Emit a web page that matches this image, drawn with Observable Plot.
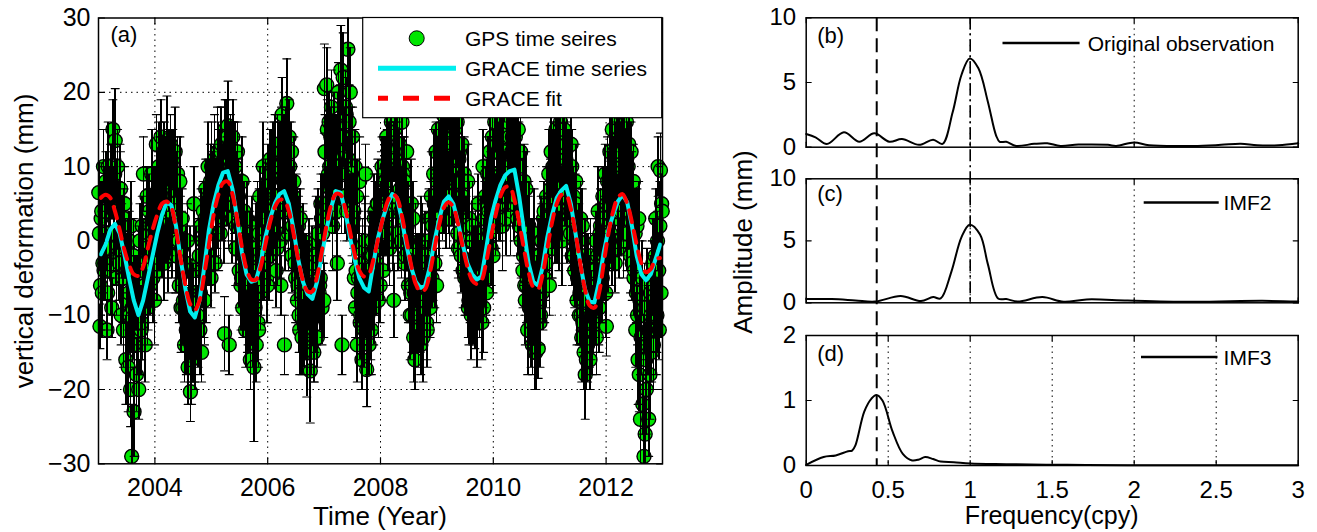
<!DOCTYPE html>
<html><head><meta charset="utf-8">
<script src="https://cdn.jsdelivr.net/npm/d3@7"></script>
<script src="https://cdn.jsdelivr.net/npm/@observablehq/plot@0.6"></script>
<style>
body{margin:0;background:#fff;font-family:"Liberation Sans",Arial,sans-serif;}
#root{position:relative;width:1317px;height:532px;overflow:hidden;background:#fff;}
#root svg{position:absolute;}
</style></head><body><div id="root"></div>
<script>
// ---------------- DATA ----------------
const gpsStartYear = 2003;
const gpsSamplesPerYear = 96;
// GPS vertical deformation (mm), 8 samples per month, 2003-2012
const gpsValues = [
 // 2003
 6.5,1,-11.5,-6,3,4,-7,-3, 10,-4,-3,4,8,1,-12,-7, 10,6,0,-1,8,-4,-9,8, 15,1,4,9,13.5,-2,-5,5, 10,4,-2,-3,7,7,-10,0, 2,-5,-12,3,5,-1,-16,-8,
 -4,-1,-17,-7,0,-10,-20,2, -29,-9,-12,-2,-23,-13,-7,-6, -18,-7,-8,-14,-20,-4,0,-11, -12,-11,2,-3,9,-7,-6,-14, -3,-1,6,-9,-8,1,4,-6, 2,-5,9,3,-5,1,6,-8,
 // 2004
 5,4,13,-3,-4,7,10,0, 8,0,14,9,0,5,12,-3, 12,9,3,3,13.5,-1,-2,11, 9,4,13,10,2,0,11,7, 6,5,12,-2,-2,8,9,1, 0,-6,8,2,-9,-1,3,-9,
 -8,-3,-14,-9,-3,-12,-11,0, -17,-10,-12,-4,-20.3,-14,-16,-7, -13,-7,5,-14,-15,-4,-8,-11, -10,-12,-3,-2,-12,-7,2,-15, -4,0,4,-8,-8,3,7,-5, 3,-2,10,6,-2,4,8,-5,
 // 2005
 10,8,4,1,8,11,-3,4, 7,4,12,12,1,9,10,1, 12,13,4,7,9,3,-12.5,15, 14,8,8,14,15.5,4,-14,11, 13,10,5,3,14,12,10,6, 10,-1,2,7,12,4,6,-4,
 4,2,-6,-5,8,-9,-2,4, -2,-6,-12,0,3,-10,-8,-3, -10,-2,-16,-9,-4,1,-13,-7, -17,-9,-9,-1,-14,-5,2,-11, -12,1,6,-7,-6,3,-2,-4, 10,-3,0,5,6,3,-5,-6,
 // 2006
 8,6,-2,-1,11,9,4,2, 10,2,3,10,12,6,-4,-1, 13,10,6,4,10,0,-6,12, 17,5,8,11,-14,1,12,9, 18.5,8,10,1,14,10,4,4, 12,-2,2,6,8,3,-3,-5,
 4,1,-8,-6,2,-10,-12,3, -4,-7,-13,-1,0,-11,-10,-4, -12,-4,-15,-11,-6,-1,-2,-9, -17.5,-11,-14,-3,-8,-7,-15,-13, -10,-2,0,-9,-13,1,-5,-7, -6,-5,5,3,-9,1,3,-8,
 // 2007
 20.5,12,4,5,21,15,8,9, 16,10,7,14,18,6,2,12, 14,13,5,8,12,4,-3,16, 20,11,10,16,23,6,-14,13, 22,14,12,6,18,17,4,9, 25.8,11,16,5,20,14,8,2,
 14,3,4,-5,10,-9,-4,6, -14,-7,-5,-1,8,-11,-10,-4, -16,-3,-8,-10,-12,0,9,-8, -17.3,-10,-10,-3,-14,-6,-2,-12, -12,0,-2,-7,-9,3,4,-5, -4,-3,5,5,-8,3,2,-6,
 // 2008
 3,6,10,-1,-4,9,8,2, 8,2,14,10,1,6,12,-1, 12,10,16,4,4,0,-8,12, 15,5,6,11,16.2,1,10,9, 13,7,4,0,16,10,9,3, 8,-3,-2,5,12,2,4,-6,
 0,0,-10,-7,5,-10,-6,3, -13,-7,-16,-1,-4,-11,-9,-4, -12,-3,-6,-10,-14,0,0,-8, -13,-9,-8,-2,-2,-6,-11,-12, -5,0,3,-7,-9,3,6,-5, 2,-3,9,5,-3,3,12,-6,
 // 2009
 8,9,15,3,2,12,12,6, 11,6,17,13,5,9,14,3, 14,12,19,7,6,3,16,14, 12,8,18,13,4,4,15,11, 9,8,16,1,-1,11,12,5, 6,-2,13,6,-4,3,9,-5,
 2,0,-5,-6,8,-9,-8,3, -6,-6,-10,0,2,-9,-4,-3, -10.5,-2,-3,-8,-11,1,5,-6, -8,-7,0,0,-11,-4,10,-9, -3,3,6,-5,-7,5,9,-2, 4,1,12,8,-1,6,14,-2,
 // 2010
 9,9,16,3,4,12,13,6, 12,5,18,13,6,9,15,2, 14,12,20,7,8,3,17,15, 16,8,22,14,10,4,18,12, 14,12,19,5,6,14,15,8, 10,3,15,10,2,7,12,0,
 4,5,-4,-2,8,-6,-8,7, -6,-5,-12,1,2,-9,-9,-2, -11,-2,-14,-9,-5,1,-15,-7, -15,-9,-8,-2,-14.5,-6,-2,-11, -10,0,0,-7,-6,3,4,-5, -3,-3,6,5,0,3,9,-6,
 // 2011
 5,7,12,0,-1,10,10,3, 10,3,15,11,3,7,13,0, 12,10,16,4,6,0,14,12, 15,6,9,11,13,2,2,9, 10,8,4,1,13,10,-2,4, 6,-2,-4,5,8,3,-8,-5,
 -2,0,-10,-7,3,-10,-13,2, -11,-8,-15,-2,-18,-12,-16,-5, -14,-5,-6,-12,-16,-2,-10,-10, -12,-11,-4,-4,-8,-8,0,-13, -6,-2,4,-9,-9,1,2,-7, -3,-5,6,3,-2,1,9,-7,
 // 2012
 -11.5,5,8,-2,2,8,12,1, 6,0,15,9,0,5,12,-3, 10,9,16.5,3,4,-1,14,11, 12,4,17,10,6,0,15,8, 10,8,16,1,3,10,13,4, 5,-2,12,6,-3,3,8,-5,
 -4,1,-12,-7,2,-10,-16,3, -18,-8,-24,-13,-10,-5,-22,-15, -29,-9,-26,-16,-20,-6,-14,-12, -24,-12,-18,-7,-10,-15,-5,-3, -14,-8,-6,-2,3,-12,-10,0, 10,-4,-12,2,9.5,-7,5,4
];
// GPS 1-sigma errors (mm)
const gpsErrors = [
 4,5,3,6,5,4,6,4, 5,4,5,6,4,5,4,5, 6,4,5,4,5,6,4,5, 4,5,6,4,7,4,5,6, 5,4,6,5,6,5,4,5, 4,6,5,4,5,4,6,5, 5,4,6,5,4,5,5,6, 7,6,4,5,6,4,5,4, 5,5,6,4,4,6,5,5, 6,5,4,6,5,4,5,5, 6,5,4,5,4,6,5,4, 5,4,6,5,6,5,4,6,
 5,6,4,5,4,5,6,4, 6,4,5,5,5,6,4,5, 4,5,6,5,6,4,5,4, 5,6,4,5,6,5,4,6, 5,4,6,5,5,4,5,6, 4,5,6,4,6,5,4,5, 6,4,5,4,5,6,4,5, 5,6,4,6,4,5,6,4, 6,4,5,5,5,6,4,5, 4,5,6,5,6,4,5,4, 5,6,4,5,6,5,4,6, 5,4,6,5,4,6,5,4,
 6,4,5,5,5,6,4,6, 4,5,6,4,5,6,5,4, 6,5,4,5,4,6,5,4, 5,4,6,5,6,5,4,5, 4,6,5,6,5,4,6,5, 6,5,4,5,4,6,5,5, 5,4,6,5,6,4,5,4, 4,6,5,4,5,5,6,4, 5,6,4,5,6,5,4,6, 10,5,4,6,5,4,6,5, 5,6,4,5,4,5,6,4, 6,5,4,5,5,4,6,5,
 5,4,6,5,4,6,5,4, 6,5,4,6,5,4,5,5, 4,6,5,4,6,5,4,6, 5,4,5,6,4,5,6,5, 6,5,4,5,5,6,4,5, 4,5,6,4,6,4,5,6, 5,6,4,5,4,5,6,4, 6,4,5,5,5,6,4,5, 4,5,6,5,6,4,5,4, 7,6,4,5,6,5,4,6, 5,4,6,5,4,6,5,4, 6,5,4,5,5,4,6,5,
 6,5,4,5,5,4,6,5, 4,6,5,4,5,4,6,5, 6,5,4,5,5,6,5,4, 4,6,5,5,6,5,4,6, 6,4,6,5,5,5,4,5, 5,6,5,4,6,4,5,4, 4,6,5,4,5,4,6,5, 5,4,6,5,6,5,4,5, 4,6,5,4,5,6,4,5, 5,6,4,5,4,5,6,4, 6,4,5,5,5,6,4,5, 6,5,4,6,5,4,5,5,
 5,6,4,5,4,5,6,4, 6,4,5,5,5,6,4,5, 4,5,6,5,6,4,5,4, 5,6,4,5,6,5,4,6, 5,4,6,5,5,4,5,6, 6,5,4,6,5,6,4,5, 4,5,6,4,6,5,4,5, 6,5,4,6,5,4,6,5, 5,4,6,5,4,6,5,4, 6,5,4,6,5,4,5,5, 5,6,4,5,4,5,6,4, 4,5,6,4,6,5,4,5,
 4,5,6,5,6,4,5,4, 5,6,4,5,4,5,6,4, 6,5,4,5,5,4,6,5, 4,6,5,4,6,5,4,6, 5,4,6,5,4,6,5,5, 6,5,4,6,5,4,5,5, 4,6,5,4,5,4,6,5, 5,4,6,5,6,5,4,5, 4,6,5,5,6,5,4,6, 5,4,6,5,5,4,5,6, 6,5,4,5,4,6,5,4, 4,5,6,4,5,6,4,5,
 6,5,4,5,5,6,4,5, 4,5,6,4,6,4,5,6, 5,6,4,5,4,5,6,4, 6,4,5,5,5,6,4,5, 5,4,6,5,4,6,5,4, 6,5,4,6,5,4,6,5, 4,6,5,4,5,4,6,5, 5,4,6,5,6,5,4,5, 6,5,4,5,4,6,5,4, 5,4,6,5,4,5,5,6, 4,6,5,4,6,5,4,6, 5,6,4,5,4,5,6,4,
 5,4,6,5,4,5,6,4, 5,6,4,5,6,4,5,4, 5,5,6,4,4,6,5,5, 5,4,6,5,6,5,4,6, 5,4,5,5,6,5,4,5, 4,6,5,4,5,4,6,5, 6,5,4,5,5,4,6,5, 4,6,5,5,6,5,4,6, 5,6,4,5,4,5,6,4, 6,4,5,5,5,6,4,5, 4,5,6,5,6,4,5,4, 5,6,4,5,6,5,4,6,
 4,5,6,5,6,4,5,4, 5,6,4,5,4,5,6,4, 6,5,4,5,5,4,6,5, 4,6,5,4,6,5,4,6, 5,4,6,5,4,6,5,5, 6,5,4,6,5,4,5,5, 4,6,5,4,5,4,6,5, 5,4,6,5,6,5,4,5, 4,6,5,5,6,5,4,6, 5,4,6,5,5,4,5,6, 6,5,4,5,4,6,5,4, 4,5,4,6,5,6,4,5
];
// GRACE-derived deformation (mm), monthly 2003-2012
const graceStartYear = 2003;
const graceSeries = [
 -1.8,-0.5,1.5,2.3,1.0,-1.8,-5,-8,-10,-8,-5,-2,
 1,3.5,5.2,4.8,2,-2.5,-6.5,-9.5,-10.3,-8,-3.5,1.5,
 5,7.5,9.2,9.4,7,3,-1.5,-4.5,-5.5,-5.3,-3,0.5,
 3,5,6.3,6.7,5,1.5,-2.5,-5.5,-7.2,-7.8,-5.5,-2,
 1.5,4.5,6.7,6.5,4,0.5,-2.5,-5,-6.3,-6.8,-3,0.5,
 3,5,6.3,5.8,3,-0.5,-3.5,-5.5,-6.3,-6,-3.5,0,
 3,5.3,6,5,2.5,-0.5,-3,-4.5,-5.2,-4.8,-1,3,
 5.5,7.5,8.8,9.4,9.6,6,1.5,-3,-5.5,-6,-3.5,0.5,
 3.5,5.8,6.8,7.4,5,1,-3,-6.5,-8.2,-8.3,-5.5,-1.5,
 1.5,3.5,5.3,6.2,5.2,2,-2,-4.5,-5.3,-4.5,-2.5,-0.5
];
const graceFit = [
 5.8,6.2,5.8,4,1.5,-1.2,-3.2,-4.5,-4.7,-3.5,-1,1.5,
 3.5,5,5.3,4.5,1.5,-2.5,-6,-8.5,-9.3,-8,-4.5,-0.5,
 3.5,6.2,7.8,8,6.3,3,-0.8,-3.8,-5.2,-5.2,-3.5,-0.5,
 2.5,4.5,5.5,5.5,4,1,-2.5,-5.3,-6.8,-6.8,-4.8,-1.5,
 2,4.8,6.3,6.2,4.3,1.3,-1.8,-4,-4.8,-4.5,-2.5,0.3,
 3,5.3,6.3,5.8,3.5,0.2,-3.2,-5.8,-6.8,-6.5,-4.3,-1,
 2.2,4.5,5.2,4.5,2.3,-0.8,-3.5,-5.3,-5.8,-5.3,-2.8,0.5,
 3.5,6,7.2,7.3,5.5,2.5,-1,-4.2,-6.2,-6.5,-4.5,-1,
 2.5,5,6.2,6.2,4.3,1,-3,-6.5,-8.7,-9,-7,-3,
 1,4,5.8,6.3,5,2.5,-0.5,-3,-4.2,-3.8,-2.5,-2.3
];
// Amplitude spectra (mm) vs frequency (cycles per year)
const freqOrig = [0,0.057,0.126,0.23,0.324,0.415,0.507,0.584,0.688,0.774,0.831,0.893,0.947,0.997,1.05,1.108,1.158,1.18,1.22,1.28,1.39,1.47,1.55,1.66,1.84,1.89,2.0,2.09,2.36,2.53,2.65,2.75,2.88,3.0];
const ampOrig  = [1.02,0.76,0.24,1.15,0.42,1.07,0.42,0.63,0.18,0.58,0.26,2.7,5.6,6.86,6.1,3.5,0.9,0.42,0.42,0.1,0.26,0.3,0.1,0.2,0.18,0.1,0.37,0.15,0.1,0.18,0.26,0.15,0.15,0.3];
const freqImf2 = [0,0.156,0.30,0.42,0.576,0.70,0.774,0.82,0.885,0.947,0.997,1.06,1.108,1.17,1.22,1.29,1.44,1.57,1.71,1.96,2.36,2.78,3.0];
const ampImf2  = [0.3,0.3,0.19,0.1,0.55,0.14,0.46,0.35,2.5,5.3,6.3,5.5,3.1,0.35,0.3,0.1,0.46,0.08,0.27,0.19,0.08,0.16,0.1];
const freqImf3 = [0,0.106,0.18,0.255,0.28,0.30,0.354,0.398,0.428,0.465,0.527,0.589,0.646,0.688,0.725,0.774,0.82,0.9,1.0,1.22,1.59,1.96,3.0];
const ampImf3  = [0.01,0.13,0.155,0.22,0.23,0.31,0.83,1.03,1.085,1.0,0.52,0.18,0.078,0.093,0.13,0.1,0.06,0.05,0.03,0.02,0.01,0.005,0.005];
const dashedFreq = [0.43];
const dashDotFreq = [1];
// Ticks
const yearTicks = [2004,2006,2008,2010,2012];
const defTicks = [-30,-20,-10,0,10,20,30];
const defGrid = [-20,-10,0,10,20];
const freqTicksTop = [0,1,2,3];
const freqGridTop = [1,2];
const freqTicksBottom = [0,0.5,1,1.5,2,2.5,3];
const freqGridBottom = [0.5,1,1.5,2,2.5];
const ampTicksTop = [0,5,10];
const ampTicksBottom = [0,1,2];
// Texts
const legendA = ["GPS time seires","GRACE time series","GRACE fit"];
const panelLabels = ["(a)","(b)","(c)","(d)"];
const spectrumNames = ["Original observation","IMF2","IMF3"];

// ---------------- BUILD ----------------
const gps = gpsValues.map((v,i)=>({t: gpsStartYear + (i+0.5)/gpsSamplesPerYear, v, e: gpsErrors[i]}));
const grace = graceSeries.map((v,i)=>({t: graceStartYear + (i+0.5)/12, v}));
const fit = graceFit.map((v,i)=>({t: graceStartYear + (i+0.5)/12, v}));
const spec = (f,a)=>f.map((x,i)=>({f:x, a:a[i]}));

const FONT = '"Liberation Sans", Arial, sans-serif';
const GREEN = "#00e600", CYAN = "#00eeee", RED = "#ff0000";
const lineShape = {draw(ctx, l){ ctx.moveTo(0,0); ctx.lineTo(0,-l); }};
const grid = {stroke:"black", strokeWidth:1, strokeDasharray:"1.5,4"};
const fmt = d => String(d);

function inward(xt, yt, len=6){
  const o = {length: len, anchor:"start", shape: lineShape, stroke:"black", strokeWidth:1.2};
  return [
    Plot.vector(xt, {x: d=>d, frameAnchor:"bottom", rotate:0, ...o}),
    Plot.vector(xt, {x: d=>d, frameAnchor:"top", rotate:180, ...o}),
    Plot.vector(yt, {y: d=>d, frameAnchor:"left", rotate:90, ...o}),
    Plot.vector(yt, {y: d=>d, frameAnchor:"right", rotate:-90, ...o})
  ];
}
const root = document.getElementById("root");
function place(svg, left, top){ svg.style.left = left+"px"; svg.style.top = top+"px"; root.appendChild(svg); }

// Panel (a)
const pa = Plot.plot({
  width:700, height:532, marginLeft:98, marginRight:38, marginTop:17.5, marginBottom:68.7,
  x:{domain:[2003,2013]}, y:{domain:[-30,30]},
  style:{fontFamily:FONT, fontSize:"25px", background:"transparent", overflow:"visible", color:"black"},
  marks:[
    Plot.ruleX(yearTicks, grid),
    Plot.ruleY(defGrid, grid),
    Plot.dot(gps, {x:"t", y:"v", r:7, fill:GREEN, stroke:"black", strokeWidth:1.4}),
    Plot.ruleX(gps, {x:"t", y1:d=>d.v-d.e, y2:d=>d.v+d.e, stroke:"black", strokeWidth:1.7, shapeRendering:"crispEdges", clip:true}),
    Plot.vector(gps, {x:"t", y:d=>d.v+d.e, rotate:90, length:8, anchor:"middle", shape:lineShape, stroke:"black", strokeWidth:1.1, clip:true}),
    Plot.vector(gps, {x:"t", y:d=>d.v-d.e, rotate:90, length:8, anchor:"middle", shape:lineShape, stroke:"black", strokeWidth:1.1, clip:true}),
    Plot.line(grace, {x:"t", y:"v", stroke:CYAN, strokeWidth:4}),
    Plot.line(fit, {x:"t", y:"v", stroke:RED, strokeWidth:4, strokeDasharray:"12,9", curve:"catmull-rom"}),
    ...inward(yearTicks, defTicks),
    Plot.axisX({ticks:yearTicks, tickSize:0, tickPadding:14, tickFormat:fmt, label:null, fontSize:25}),
    Plot.axisY({ticks:defTicks, tickSize:0, tickPadding:8, label:null, fontSize:25}),
    Plot.frame({stroke:"black", strokeWidth:1.5}),
    Plot.text([panelLabels[0]], {text:d=>d, frameAnchor:"top-left", dx:12, dy:8, lineAnchor:"top", textAnchor:"start", fontSize:22})
  ]
});
place(pa, 0, 0);

function spectrumPanel(data, yDomain, yTicks, xTicks, xGrid, showXLabels, label, dims, top){
  const p = Plot.plot({
    width:617, height:dims.h, marginLeft:105.7, marginRight:19.3, marginTop:dims.mt, marginBottom:dims.mb,
    x:{domain:[0,3]}, y:{domain:yDomain},
    style:{fontFamily:FONT, fontSize:"24px", background:"transparent", overflow:"visible", color:"black"},
    marks:[
      Plot.ruleX(xGrid, grid),
      Plot.line(data, {x:"f", y:"a", stroke:"black", strokeWidth:2, curve:"catmull-rom"}),
      ...inward(xTicks, yTicks, 5),
      showXLabels ? Plot.axisX({ticks:xTicks, tickSize:0, tickPadding:15, tickFormat:fmt, label:null, fontSize:24}) : Plot.axisX({ticks:[], label:null}),
      Plot.axisY({ticks:yTicks, tickSize:0, tickPadding:10, tickFormat:fmt, label:null, fontSize:24}),
      Plot.frame({stroke:"black", strokeWidth:1.5}),
      Plot.text([label], {text:d=>d, frameAnchor:"top-left", dx:11, dy:dims.ldy, lineAnchor:"top", textAnchor:"start", fontSize:22})
    ]
  });
  place(p, 700, top);
}
spectrumPanel(spec(freqOrig, ampOrig), [0,10], ampTicksTop, freqTicksTop, freqGridTop, false, panelLabels[1], {h:160, mt:17.3, mb:13.3, ldy:10}, 0);
spectrumPanel(spec(freqImf2, ampImf2), [0,10], ampTicksTop, freqTicksTop, freqGridTop, false, panelLabels[2], {h:160, mt:18.3, mb:17.7, ldy:7}, 160);
spectrumPanel(spec(freqImf3, ampImf3), [0,2], ampTicksBottom, freqTicksBottom, freqGridBottom, true, panelLabels[3], {h:212, mt:15, mb:67, ldy:10}, 320);

// reference frequency lines spanning panels
const ov1 = Plot.plot({width:617, height:532, marginLeft:105.7, marginRight:19.3, marginTop:17.3, marginBottom:67,
  x:{domain:[0,3]}, axis:null, style:{background:"transparent", overflow:"visible"},
  marks:[Plot.ruleX(dashedFreq, {stroke:"black", strokeWidth:2, strokeDasharray:"14,7"})]});
place(ov1, 700, 0);
const ov2 = Plot.plot({width:617, height:532, marginLeft:105.7, marginRight:19.3, marginTop:17.3, marginBottom:229.7,
  x:{domain:[0,3]}, axis:null, style:{background:"transparent", overflow:"visible"},
  marks:[Plot.ruleX(dashDotFreq, {stroke:"black", strokeWidth:1.6, strokeDasharray:"12,4,2,4"})]});
place(ov2, 700, 0);

// legends and axis titles
const ns = "http://www.w3.org/2000/svg";
const layer = document.createElementNS(ns, "svg");
layer.setAttribute("width", 1317); layer.setAttribute("height", 532);
layer.style.left = "0px"; layer.style.top = "0px";
layer.style.fontFamily = FONT;
function el(tag, attrs, txt){ const e = document.createElementNS(ns, tag); for (const k in attrs) e.setAttribute(k, attrs[k]); if (txt!=null) e.textContent = txt; layer.appendChild(e); return e; }
el("rect", {x:362.7, y:17.5, width:299, height:100.2, fill:"white", stroke:"black", "stroke-width":1.2});
el("circle", {cx:416.7, cy:38.3, r:7.5, fill:GREEN, stroke:"black", "stroke-width":1});
el("line", {x1:378, x2:456, y1:68.3, y2:68.3, stroke:CYAN, "stroke-width":5});
el("line", {x1:378, x2:456, y1:98.3, y2:98.3, stroke:RED, "stroke-width":5, "stroke-dasharray":"16,15", "stroke-dashoffset":"6"});
legendA.forEach((s,i)=>el("text", {x:465, y:45.8+30*i, "font-size":21}, s));
const specLeg = [{x1:1002.5,x2:1079.6,y:43,tx:1087.7},{x1:1143.7,x2:1218.7,y:202.6,tx:1223.6},{x1:1141,x2:1217.5,y:357,tx:1223.6}];
specLeg.forEach((g,i)=>{
  el("line", {x1:g.x1, x2:g.x2, y1:g.y, y2:g.y, stroke:"black", "stroke-width":2.5});
  el("text", {x:g.tx, y:g.y+7.5, "font-size":21}, spectrumNames[i]);
});
el("text", {x:0, y:0, "font-size":26, "text-anchor":"middle", "dominant-baseline":"central", transform:"translate(24,241) rotate(-90)"}, "vertical deformation (mm)");
el("text", {x:380, y:516, "font-size":26, "text-anchor":"middle", "dominant-baseline":"central"}, "Time (Year)");
el("text", {x:0, y:0, "font-size":26, "text-anchor":"middle", "dominant-baseline":"central", transform:"translate(743,242) rotate(-90)"}, "Amplitude (mm)");
el("text", {x:1051.7, y:515, "font-size":25, "text-anchor":"middle", "dominant-baseline":"central"}, "Frequency(cpy)");
root.appendChild(layer);
</script></body></html>
